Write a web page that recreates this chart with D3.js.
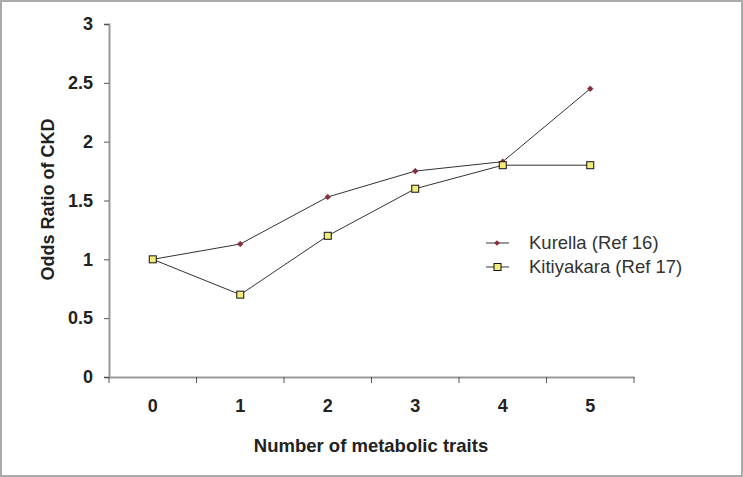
<!DOCTYPE html>
<html><head><meta charset="utf-8">
<script src="https://cdn.jsdelivr.net/npm/d3@7"></script>
<style>body{margin:0;background:#fff;}svg{display:block;font-family:"Liberation Sans",Arial,sans-serif;}</style>
</head><body>
<svg id="c" width="743" height="477"></svg>
<script>
const categories = ["0","1","2","3","4","5"];
const kurella = [1, 1.13, 1.53, 1.75, 1.83, 2.45];
const kitiyakara = [1, 0.7, 1.2, 1.6, 1.8, 1.8];
const yTicks = [0, 0.5, 1, 1.5, 2, 2.5, 3];
const seriesNames = ["Kurella (Ref 16)", "Kitiyakara (Ref 17)"];

const svg = d3.select("#c");
svg.append("rect").attr("x",1).attr("y",1).attr("width",741).attr("height",475)
  .attr("fill","#fff").attr("stroke","#aaa").attr("stroke-width",2);

const m = {l:109, r:634, t:24, b:377};
const x = d3.scaleBand().domain(categories).range([m.l, m.r]);
const y = d3.scaleLinear().domain([0,3]).range([m.b, m.t]);

// axes
const yAxis = svg.append("g").attr("transform",`translate(${m.l},0)`)
  .call(d3.axisLeft(y).tickValues(yTicks).tickSize(5).tickPadding(11).tickFormat(d=>d));
yAxis.select(".domain").attr("stroke","#999").attr("stroke-width",2);
yAxis.selectAll(".tick line").attr("stroke","#555");
yAxis.selectAll("text").attr("font-size",18).attr("font-weight","bold").attr("fill","#222");

const xAxis = svg.append("g").attr("transform",`translate(0,${m.b})`)
  .call(d3.axisBottom(x).tickSize(0).tickPadding(22));
xAxis.select(".domain").attr("stroke","#999").attr("stroke-width",2);
xAxis.selectAll("text").attr("font-size",18).attr("font-weight","bold").attr("fill","#222");
// boundary ticks
const bounds = categories.map(c=>x(c)).concat([m.r]);
svg.append("g").selectAll("line").data(bounds).join("line")
  .attr("x1",d=>d).attr("x2",d=>d).attr("y1",m.b).attr("y2",m.b+6)
  .attr("stroke","#555");

// titles
svg.append("text").attr("transform",`translate(54,${(m.t+m.b)/2-1}) rotate(-90)`)
  .attr("text-anchor","middle").attr("font-size",18).attr("font-weight","bold").attr("fill","#222")
  .text("Odds Ratio of CKD");
svg.append("text").attr("x",371).attr("y",452).attr("text-anchor","middle")
  .attr("font-size",18.5).attr("font-weight","bold").attr("fill","#222")
  .text("Number of metabolic traits");

const cx = c => x(c) + x.bandwidth()/2;
const line = d3.line().x((d,i)=>cx(categories[i])).y(d=>y(d));

svg.append("path").datum(kitiyakara).attr("d",line).attr("fill","none").attr("stroke","#333").attr("stroke-width",1);
svg.append("path").datum(kurella).attr("d",line).attr("fill","none").attr("stroke","#333").attr("stroke-width",1);

const diamond = d3.symbol().type(d3.symbolSquare).size(16);
svg.append("g").selectAll("path").data(kurella).join("path")
  .attr("d",diamond).attr("transform",(d,i)=>`translate(${cx(categories[i])},${y(d)}) rotate(45)`)
  .attr("fill","#8b2c3c").attr("stroke","#6a1f2c").attr("stroke-width",0.5);
svg.append("g").selectAll("rect").data(kitiyakara).join("rect")
  .attr("x",(d,i)=>cx(categories[i])-3.5).attr("y",d=>y(d)-3.5)
  .attr("width",7).attr("height",7).attr("fill","#f2ec7c").attr("stroke","#111").attr("stroke-width",1);

// legend
const lg = svg.append("g");
const ly = [243, 267];
lg.selectAll("line").data(ly).join("line").attr("x1",486).attr("x2",509)
  .attr("y1",d=>d).attr("y2",d=>d).attr("stroke","#333");
lg.append("path").attr("d",diamond).attr("transform",`translate(497,${ly[0]}) rotate(45)`).attr("fill","#8b2c3c");
lg.append("rect").attr("x",494).attr("y",ly[1]-3.5).attr("width",7).attr("height",7)
  .attr("fill","#f2ec7c").attr("stroke","#111");
lg.selectAll("text").data(seriesNames).join("text").attr("x",529).attr("y",(d,i)=>ly[i]+6)
  .attr("font-size",18.5).attr("fill","#333").text(d=>d);
</script>
</body></html>
